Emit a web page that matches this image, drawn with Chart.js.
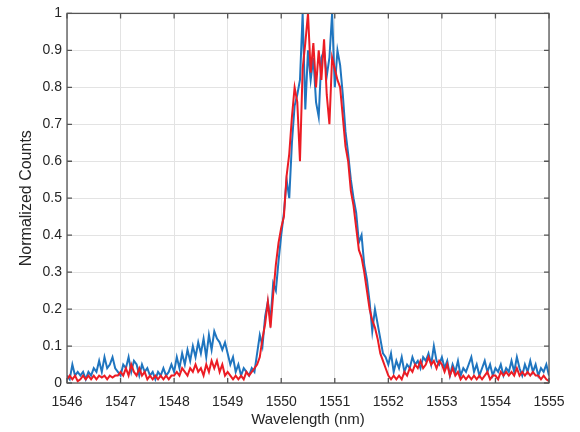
<!DOCTYPE html>
<html>
<head>
<meta charset="utf-8">
<script src="https://cdn.jsdelivr.net/npm/chart.js@4"></script>
<style>
  body { margin: 0; background: #fff; }
  #wrap { width: 580px; height: 432px; }
</style>
</head>
<body>
<div id="wrap"><canvas id="myChart" width="580" height="432"></canvas></div>
<script>
  // wavelength grid: 1546 .. 1555 nm, 0.05 nm step
  const startNm = 1546;
  const stepNm = 0.05;

  const blueCounts = [
    0.02,0.01,0.05,0.02,0.03,0.02,0.03,0.01,0.03,0.02,0.04,0.03,0.06,0.03,0.07,0.04,0.05,0.07,0.04,0.03,
    0.02,0.05,0.04,0.07,0.03,0.06,0.05,0.02,0.05,0.03,0.04,0.02,0.03,0.01,0.03,0.02,0.04,0.02,0.03,0.05,
    0.03,0.07,0.04,0.08,0.05,0.09,0.06,0.10,0.07,0.11,0.08,0.12,0.07,0.13,0.09,0.14,0.12,0.11,0.09,0.11,
    0.08,0.05,0.07,0.03,0.05,0.02,0.04,0.03,0.02,0.04,0.03,0.08,0.13,0.10,0.18,0.22,0.17,0.27,0.25,0.33,
    0.40,0.46,0.55,0.50,0.65,0.75,0.78,0.82,1.00,0.74,0.90,0.82,0.88,0.76,0.72,0.88,0.90,0.83,0.88,1.00,
    0.80,0.90,0.86,0.78,0.68,0.62,0.55,0.50,0.46,0.38,0.40,0.32,0.28,0.22,0.14,0.20,0.16,0.12,0.08,0.07,
    0.05,0.08,0.03,0.06,0.04,0.07,0.03,0.05,0.04,0.07,0.05,0.06,0.04,0.07,0.06,0.08,0.05,0.10,0.06,0.05,
    0.07,0.04,0.06,0.02,0.05,0.03,0.06,0.02,0.04,0.03,0.05,0.07,0.03,0.05,0.02,0.04,0.06,0.03,0.05,0.02,
    0.04,0.03,0.05,0.02,0.04,0.03,0.06,0.03,0.07,0.04,0.02,0.05,0.03,0.06,0.03,0.05,0.02,0.04,0.03,0.05,
    0.02
  ];

  const redCounts = [
    0.01,0.02,0.01,0.02,0.005,0.01,0.02,0.01,0.02,0.01,0.02,0.01,0.02,0.015,0.02,0.01,0.02,0.015,0.02,0.02,
    0.03,0.02,0.04,0.02,0.05,0.03,0.02,0.04,0.02,0.03,0.01,0.02,0.01,0.02,0.01,0.02,0.01,0.02,0.01,0.02,
    0.02,0.03,0.02,0.04,0.03,0.02,0.04,0.03,0.05,0.03,0.04,0.02,0.05,0.03,0.06,0.04,0.06,0.03,0.05,0.02,
    0.03,0.02,0.01,0.02,0.01,0.02,0.01,0.03,0.02,0.03,0.04,0.05,0.07,0.12,0.16,0.22,0.15,0.24,0.32,0.38,
    0.42,0.45,0.56,0.62,0.72,0.80,0.76,0.60,0.85,0.92,1.00,0.84,0.92,0.80,0.90,0.82,0.93,0.78,0.70,0.88,
    0.85,0.82,0.80,0.72,0.64,0.60,0.52,0.48,0.42,0.36,0.34,0.30,0.25,0.20,0.17,0.15,0.12,0.08,0.06,0.04,
    0.02,0.01,0.02,0.01,0.02,0.01,0.03,0.02,0.04,0.03,0.05,0.04,0.06,0.04,0.05,0.07,0.05,0.06,0.04,0.06,
    0.05,0.03,0.05,0.02,0.04,0.02,0.03,0.01,0.02,0.01,0.02,0.01,0.02,0.01,0.02,0.01,0.02,0.03,0.01,0.02,
    0.02,0.01,0.03,0.02,0.03,0.02,0.03,0.02,0.04,0.02,0.03,0.02,0.03,0.02,0.03,0.02,0.02,0.01,0.02,0.01,
    0.005
  ];

  const xTicks = [1546, 1547, 1548, 1549, 1550, 1551, 1552, 1553, 1554, 1555];
  const yTicks = [0, 0.1, 0.2, 0.3, 0.4, 0.5, 0.6, 0.7, 0.8, 0.9, 1];

  const toPoints = arr => arr.map((v, i) => ({ x: startNm + i * stepNm, y: v }));

  const textColor = '#262626';
  const tickFont = { family: 'Liberation Sans, Arial, sans-serif', size: 14 };
  const titleFont = { family: 'Liberation Sans, Arial, sans-serif', size: 15 };

  // matlab-like box with inward ticks
  const boxPlugin = {
    id: 'box',
    afterDatasetsDraw(chart) {
      const { ctx, chartArea: a, scales: { x, y } } = chart;
      ctx.save();
      ctx.strokeStyle = '#555555';
      ctx.lineWidth = 1.3;
      ctx.strokeRect(a.left, a.top, a.right - a.left, a.bottom - a.top);
      ctx.beginPath();
      xTicks.forEach(t => {
        const px = x.getPixelForValue(t);
        ctx.moveTo(px, a.bottom); ctx.lineTo(px, a.bottom - 5);
        ctx.moveTo(px, a.top); ctx.lineTo(px, a.top + 5);
      });
      yTicks.forEach(t => {
        const py = y.getPixelForValue(t);
        ctx.moveTo(a.left, py); ctx.lineTo(a.left + 5, py);
        ctx.moveTo(a.right, py); ctx.lineTo(a.right - 5, py);
      });
      ctx.stroke();
      ctx.restore();
    }
  };

  const data = {
    datasets: [{
      label: 'red',
      data: toPoints(redCounts),
      borderColor: '#ec1c24',
      borderWidth: 2,
      pointRadius: 0,
      tension: 0
    }, {
      label: 'blue',
      data: toPoints(blueCounts),
      borderColor: '#1f75bf',
      borderWidth: 2,
      pointRadius: 0,
      tension: 0
    }]
  };

  const config = {
    type: 'line',
    data: data,
    options: {
      responsive: false,
      animation: false,
      layout: { padding: { top: 13, right: 31, left: 0, bottom: 0 } },
      plugins: { legend: { display: false }, tooltip: { enabled: false } },
      scales: {
        x: {
          type: 'linear',
          min: 1546,
          max: 1555,
          afterBuildTicks: s => { s.ticks = xTicks.map(v => ({ value: v })); },
          afterFit: s => { s.height = 49; },
          ticks: { color: textColor, font: tickFont, padding: 11, maxRotation: 0, callback: v => String(v) },
          grid: { color: '#e3e3e3', drawTicks: false },
          border: { display: false },
          title: { display: true, text: 'Wavelength (nm)', color: textColor, font: titleFont, padding: { top: 0, bottom: 3 } }
        },
        y: {
          min: 0,
          max: 1,
          afterBuildTicks: s => { s.ticks = yTicks.map(v => ({ value: v })); },
          afterFit: s => { s.width = 67; },
          ticks: { color: textColor, font: tickFont, padding: 5, callback: v => String(Math.round(v * 10) / 10) },
          grid: { color: '#e3e3e3', drawTicks: false },
          border: { display: false },
          title: { display: true, text: 'Normalized Counts', color: textColor, font: { family: titleFont.family, size: 16 }, padding: { top: 17, bottom: 0 } }
        }
      }
    },
    plugins: [boxPlugin]
  };

  const myChart = new Chart(document.getElementById('myChart'), config);
</script>
</body>
</html>
